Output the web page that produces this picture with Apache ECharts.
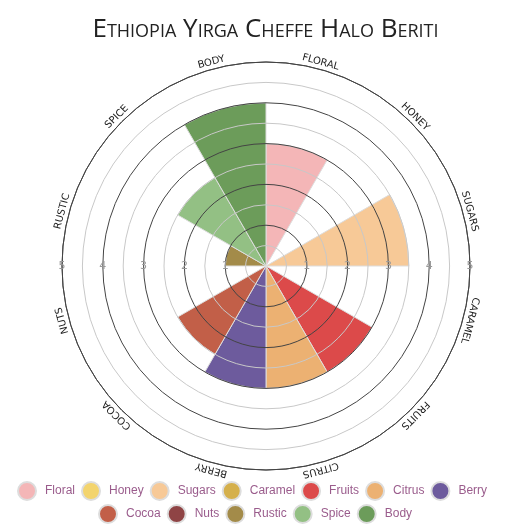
<!DOCTYPE html>
<html>
<head>
<meta charset="utf-8">
<script src="https://cdn.jsdelivr.net/npm/echarts@6/dist/echarts.min.js"></script>
<style>
html, body { margin: 0; padding: 0; background: #fff; }
#chart { width: 531px; height: 531px; }
</style>
</head>
<body>
<div id="chart"></div>
<script>
var flavors = ['Floral', 'Honey', 'Sugars', 'Caramel', 'Fruits', 'Citrus', 'Berry', 'Cocoa', 'Nuts', 'Rustic', 'Spice', 'Body'];
var scores = [3, 0, 3.5, 0, 3, 3, 3, 2.5, 0, 1, 2.5, 4];
var colors = ['#f4b6b7', '#f3d46e', '#f7c997', '#d5b04c', '#dc4a4a', '#ecb172', '#6d5b9d', '#c25f48', '#8f4445', '#a38b49', '#93c084', '#6c9c5a'];
var ringLabels = ['1', '2', '3', '4', '5'];

var CENTER = [266, 266];
var RADIUS = 204;
var LABEL_R = 5.17; // just outside the outer ring
var LEGEND_MID = 262.5; // legend rows sit a little left of centre
var ICON_W = 26, ICON_H = 18, ITEM_GAP = 6;

var chart = echarts.init(document.getElementById('chart'));

// one series per flavour, all on the same stack so each fills its own sector
var barSeries = flavors.map(function (name, i) {
    return {
        name: name,
        type: 'bar',
        coordinateSystem: 'polar',
        polarIndex: 0,
        stack: 'wheel',
        barCategoryGap: '0%',
        z: 2,
        itemStyle: { color: colors[i], borderColor: '#ddd', borderWidth: 1 },
        data: flavors.map(function (f, j) {
            return (j === i && scores[i] > 0) ? scores[i] : '-';
        })
    };
});

// flavour names round the rim, turned to follow the circle
var rimLabels = {
    name: 'rim',
    type: 'custom',
    coordinateSystem: 'polar',
    polarIndex: 0,
    silent: true,
    z: 20,
    data: flavors.map(function (f) { return [LABEL_R, f]; }),
    renderItem: function (params, api) {
        var idx = api.value(1);
        var p = api.coord([api.value(0), idx]);
        var c = api.coord([0, idx]);
        var a = Math.atan2(p[0] - c[0], c[1] - p[1]);
        return {
            type: 'text',
            x: p[0],
            y: p[1],
            rotation: -a,
            style: {
                text: flavors[params.dataIndex].toUpperCase(),
                fill: '#222',
                fontSize: 10,
                fontFamily: 'DejaVu Sans',
                align: 'center',
                verticalAlign: 'middle'
            }
        };
    }
};

// ring values written on the horizontal line, both sides of the centre
var ringData = [];
ringLabels.forEach(function (t) {
    ringData.push([Number(t), 0]);
    ringData.push([Number(t), 180]);
});
var ringText = {
    name: 'rings',
    type: 'custom',
    coordinateSystem: 'polar',
    polarIndex: 1,
    silent: true,
    z: 20,
    data: ringData,
    renderItem: function (params, api) {
        var p = api.coord([api.value(0), api.value(1)]);
        return {
            type: 'text',
            x: p[0],
            y: p[1],
            style: {
                text: String(api.value(0)),
                fill: '#999',
                fontSize: 11,
                fontFamily: 'DejaVu Sans',
                align: 'center',
                verticalAlign: 'middle'
            }
        };
    }
};

var legendText = { color: '#9a5c8c', fontSize: 12, fontFamily: 'Liberation Sans' };

// width of a legend row, so the row can be centred on LEGEND_MID
var measureCtx = document.createElement('canvas').getContext('2d');
measureCtx.font = '12px "Liberation Sans"';
function rowLeft(names) {
    var w = 0;
    names.forEach(function (n, i) {
        w += ICON_W + 5 + measureCtx.measureText(n).width;
        if (i > 0) w += ITEM_GAP;
    });
    return Math.round(LEGEND_MID - w / 2 - 5);
}

function legendRow(names, top) {
    return {
        data: names,
        left: rowLeft(names),
        top: top,
        icon: 'circle',
        itemWidth: ICON_W,
        itemHeight: ICON_H,
        itemGap: ITEM_GAP,
        textStyle: legendText
    };
}

var option = {
    animation: false,
    title: {
        text: 'Ethiopia Yirga Cheffe Halo Beriti',
        left: 'center',
        top: 12,
        textStyle: {
            fontSize: 26,
            fontWeight: 'normal',
            fontStyle: 'small-caps',
            fontFamily: 'Open Sans',
            color: '#222'
        }
    },
    legend: [
        legendRow(flavors.slice(0, 7), 476),
        legendRow(flavors.slice(7), 499)
    ],
    polar: [
        { center: CENTER, radius: RADIUS },
        { center: CENTER, radius: RADIUS }
    ],
    angleAxis: [
        {
            polarIndex: 0,
            type: 'category',
            data: flavors,
            startAngle: 90,
            z: 10,
            axisLine: { show: true, lineStyle: { color: '#444', width: 1 } },
            axisTick: { show: false },
            axisLabel: { show: false },
            splitLine: { show: false }
        },
        { polarIndex: 1, type: 'value', min: 0, max: 360, startAngle: 0, show: false }
    ],
    radiusAxis: [
        {
            polarIndex: 0,
            min: 0,
            max: 5,
            interval: 0.5,
            z: 10,
            axisLine: { show: false },
            axisTick: { show: false },
            axisLabel: { show: false },
            splitLine: { show: true, lineStyle: { color: ['#444', '#c8c8c8'], width: 1 } }
        },
        { polarIndex: 1, min: 0, max: 5, show: false }
    ],
    series: barSeries.concat([rimLabels, ringText])
};

chart.setOption(option);
</script>
</body>
</html>
